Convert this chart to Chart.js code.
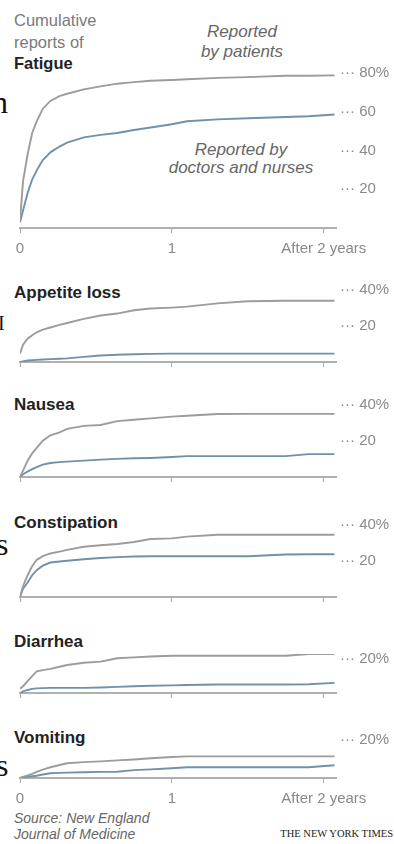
<!DOCTYPE html>
<html lang="en">
<head>
<meta charset="UTF-8" />
<title>Cumulative reports of side effects</title>
<script src="https://cdn.jsdelivr.net/npm/chart.js@4/dist/chart.umd.min.js"></script>
<style>
  body {
    margin: 0;
    width: 394px;
    height: 844px;
    background: #fff;
    position: relative;
    overflow: hidden;
    font-family: "Liberation Sans", Arial, sans-serif;
  }
  canvas.panel { position: absolute; left: 0; }
  .txt { position: absolute; white-space: nowrap; }
  .lead { left: 14px; top: 10px; font-size: 16.5px; line-height: 21.5px; color: #7a7a7a; }
  .lead b { color: #222; }
  .note { font-style: italic; font-size: 17px; color: #666; text-align: center; }
  .title { left: 14px; font-size: 17px; line-height: 20px; font-weight: bold; color: #222; }
  .source { left: 14px; top: 810px; font-size: 14px; line-height: 16px; font-style: italic; color: #666; }
  .nyt { right: 1px; top: 828px; font-family: "Liberation Serif", serif; font-size: 10.5px; color: #222; }
  .edge { font-family: "Liberation Serif", serif; font-size: 32px; color: #111; }
</style>
</head>
<body>
  <div class="txt edge" style="left:-8px; top:84px;">n</div>
  <div class="txt edge" style="left:-2px; top:312px; font-size:20px;">I</div>
  <div class="txt edge" style="left:-4px; top:526px;">s</div>
  <div class="txt edge" style="left:-4px; top:747px;">s</div>

  <div class="txt lead">Cumulative<br>reports of<br><b>Fatigue</b></div>
  <div class="txt note" style="left:172px; top:22px; width:140px; line-height:20px;">Reported<br>by patients</div>
  <div class="txt note" style="left:151px; top:141px; width:180px; line-height:18px;">Reported by<br>doctors and nurses</div>

  <div class="txt title" style="top:283px;">Appetite loss</div>
  <div class="txt title" style="top:395px;">Nausea</div>
  <div class="txt title" style="top:513px;">Constipation</div>
  <div class="txt title" style="top:632px;">Diarrhea</div>
  <div class="txt title" style="top:728px;">Vomiting</div>

  <div class="txt source">Source: New England<br>Journal of Medicine</div>
  <div class="txt nyt">THE NEW YORK TIMES</div>

  <script>
    // years since start of treatment
    const years = [0, 0.02, 0.05, 0.08, 0.11, 0.15, 0.2, 0.26, 0.31, 0.42, 0.53,
                   0.64, 0.75, 0.86, 1.0, 1.1, 1.3, 1.5, 1.75, 1.9, 2.07];

    // cumulative % reporting, patients vs doctors and nurses
    const fatiguePatients = [4, 24, 38, 49, 55, 61.5, 65.5, 68, 69.2, 71.5, 73, 74.4, 75.2, 75.9, 76.3, 76.7, 77.4, 77.8, 78.5, 78.5, 78.7];
    const fatigueDoctors = [3, 9, 18, 25, 29.7, 35, 39, 42, 44, 46.7, 48, 49, 50.5, 51.8, 53.5, 55, 56, 56.6, 57.2, 57.6, 58.5];
    const appetitePatients = [4.6, 9.5, 12.8, 14.8, 16.4, 17.8, 19, 20.5, 21.5, 23.8, 25.6, 26.7, 28.5, 29.5, 30, 30.5, 32.3, 33.5, 33.8, 33.8, 33.8];
    const appetiteDoctors = [0, 0.3, 0.8, 1, 1.2, 1.4, 1.6, 1.8, 2, 2.8, 3.6, 4, 4.3, 4.5, 4.6, 4.6, 4.6, 4.6, 4.6, 4.6, 4.6];
    const nauseaPatients = [0, 3.5, 9, 13, 16, 20, 23, 24.6, 26.5, 28.2, 28.7, 30.8, 31.6, 32.3, 33.3, 33.8, 34.7, 34.8, 34.8, 34.8, 34.8];
    const nauseaDoctors = [0, 1.5, 3, 4.3, 5.5, 6.8, 7.7, 8.2, 8.5, 9, 9.6, 10, 10.3, 10.5, 11, 11.5, 11.5, 11.5, 11.5, 12.6, 12.6];
    const constipationPatients = [0, 6, 12, 17, 20.5, 22.5, 24, 25, 26, 27.7, 28.5, 29.2, 30.3, 32, 32.3, 33.3, 34.3, 34.3, 34.3, 34.3, 34.3];
    const constipationDoctors = [0, 4.6, 8, 12, 14.8, 17.3, 19, 19.6, 20, 20.8, 21.5, 22, 22.3, 22.5, 22.5, 22.5, 22.5, 22.5, 23.4, 23.6, 23.6];
    const diarrheaPatients = [2.5, 4, 7, 10, 12.8, 13.5, 14.2, 15.5, 16.5, 17.8, 18.5, 20.5, 21, 21.5, 22, 22, 22, 22, 22, 23, 23];
    const diarrheaDoctors = [0, 1, 1.8, 2.4, 2.7, 2.9, 3, 3, 3, 3, 3.2, 3.6, 4, 4.3, 4.5, 4.7, 5, 5, 5, 5.2, 6];
    const vomitingPatients = [0, 0.6, 1.3, 2.2, 3.2, 4.4, 5.6, 6.8, 7.7, 8.3, 8.7, 9.2, 9.7, 10.3, 11, 11.3, 11.3, 11.3, 11.3, 11.3, 11.3];
    const vomitingDoctors = [0, 0.3, 0.6, 0.9, 1.2, 1.8, 2.5, 2.7, 2.8, 3, 3.2, 3.3, 4.1, 4.5, 5.1, 5.6, 5.6, 5.6, 5.6, 5.6, 6.7];

    const yTicksFatigue = [20, 40, 60, 80];
    const yTicksForty = [20, 40];
    const yTicksTwenty = [20];
    const xTicks = [0, 1, 2];
    const xTickLabels = ["0", "1", "After 2 years"];

    const PX_PER_PCT = 1.95;
    const FONT = "'Liberation Sans', Arial, sans-serif";

    function makePanel(zeroY, patients, doctors, yTicks, showX) {
      const top = yTicks[yTicks.length - 1];
      const yMax = top + 3;
      const chartTop = zeroY - yMax * PX_PER_PCT;
      const canvasTop = Math.floor(chartTop - 12);
      const bottomH = showX ? 36 : 8;

      const canvas = document.createElement("canvas");
      canvas.className = "panel";
      canvas.width = 394;
      canvas.height = zeroY + bottomH - canvasTop;
      canvas.style.top = canvasTop + "px";
      document.body.appendChild(canvas);

      const toPoints = (vals) => years.map((x, i) => ({ x: x, y: vals[i] }));

      new Chart(canvas, {
        type: "line",
        data: {
          datasets: [
            { data: toPoints(patients), borderColor: "#9c9c9c", borderWidth: 1.9, pointRadius: 0, tension: 0 },
            { data: toPoints(doctors), borderColor: "#6f92aa", borderWidth: 1.9, pointRadius: 0, tension: 0 },
          ],
        },
        options: {
          responsive: false,
          animation: false,
          events: [],
          layout: { padding: { top: chartTop - canvasTop, left: 20, right: 0, bottom: 0 } },
          plugins: { legend: { display: false }, tooltip: { enabled: false } },
          scales: {
            x: {
              type: "linear",
              min: 0,
              max: 2.08,
              afterBuildTicks: (s) => { s.ticks = xTicks.map((v) => ({ value: v })); },
              afterFit: (s) => { s.height = bottomH; },
              grid: { drawOnChartArea: false, drawTicks: true, tickLength: 5, tickColor: "#aaa", lineWidth: 1 },
              border: { color: "#b0b0b0", width: 2 },
              ticks: {
                display: showX,
                autoSkip: false,
                maxRotation: 0,
                padding: 7,
                color: "#888",
                font: { size: 15, family: FONT },
                callback: (v, i) => xTickLabels[i],
              },
            },
            y: {
              position: "right",
              min: 0,
              max: yMax,
              afterBuildTicks: (s) => { s.ticks = yTicks.map((v) => ({ value: v })); },
              afterFit: (s) => { s.width = 58; },
              grid: { display: false, drawTicks: false },
              border: { display: false },
              ticks: {
                padding: 4,
                color: "#8a8a8a",
                font: { size: 15, family: FONT },
                callback: (v) => "\u00b7\u00b7\u00b7 " + v + (v === top ? "%" : ""),
              },
            },
          },
        },
      });
    }

    makePanel(228, fatiguePatients, fatigueDoctors, yTicksFatigue, true);
    makePanel(367, appetitePatients, appetiteDoctors, yTicksForty, false);
    makePanel(482, nauseaPatients, nauseaDoctors, yTicksForty, false);
    makePanel(602, constipationPatients, constipationDoctors, yTicksForty, false);
    makePanel(698, diarrheaPatients, diarrheaDoctors, yTicksTwenty, false);
    makePanel(778, vomitingPatients, vomitingDoctors, yTicksTwenty, true);
  </script>
</body>
</html>
